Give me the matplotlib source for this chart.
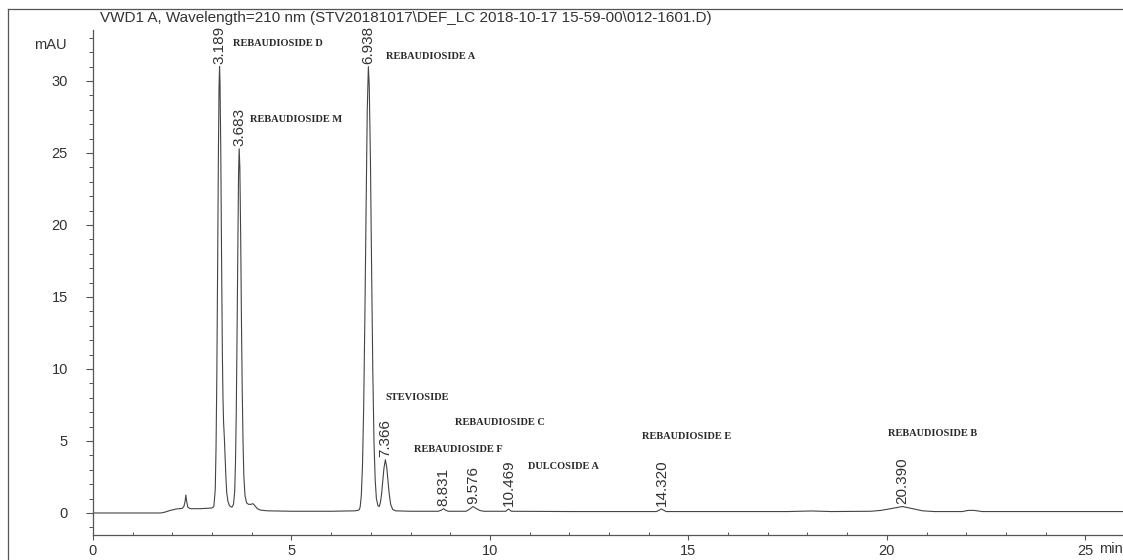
import matplotlib
matplotlib.use("Agg")
import matplotlib.pyplot as plt
from matplotlib.lines import Line2D
from matplotlib.ticker import MultipleLocator
import numpy as np

# Cromatograma VWD1 A (210 nm): puntos del trazo, tiempo en minutos y señal en mAU
tiempo_min = [
    0.0, 1.70, 1.80, 1.95, 2.10, 2.25, 2.29, 2.32, 2.34, 2.36, 2.39, 2.45, 2.70, 2.90, 3.00,
    3.045, 3.08, 3.10, 3.12, 3.14, 3.16, 3.175, 3.189, 3.20, 3.22, 3.24, 3.26, 3.275, 3.29,
    3.31, 3.33, 3.35, 3.37, 3.40, 3.44, 3.50, 3.54, 3.57, 3.59, 3.61, 3.63, 3.65, 3.667,
    3.683, 3.70, 3.72, 3.74, 3.76, 3.78, 3.80, 3.83, 3.87, 3.92, 3.98, 4.03, 4.08, 4.14,
    4.22, 4.40, 5.00, 6.00, 6.60, 6.70, 6.73, 6.76, 6.79, 6.82, 6.85, 6.88, 6.91, 6.938,
    6.96, 6.99, 7.02, 7.05, 7.08, 7.11, 7.14, 7.18, 7.21, 7.24, 7.27, 7.30, 7.33, 7.366,
    7.40, 7.43, 7.46, 7.50, 7.55, 7.62, 8.00, 8.70, 8.78, 8.831, 8.88, 8.95, 9.40, 9.48,
    9.576, 9.66, 9.75, 9.85, 10.40, 10.469, 10.54, 12.0, 14.20, 14.320, 14.44, 17.5, 18.1,
    18.6, 19.6, 19.85, 20.1, 20.390, 20.65, 20.9, 21.2, 21.9, 22.05, 22.2, 22.4, 26.0,
]
senal_mau = [
    0.0, 0.0, 0.05, 0.18, 0.28, 0.32, 0.45, 0.8, 1.25, 0.8, 0.4, 0.3, 0.3, 0.33, 0.35,
    0.45, 1.6, 4.5, 9.5, 17.0, 25.0, 29.5, 31.0, 30.0, 25.0, 17.5, 11.0, 8.0, 6.3,
    5.2, 3.8, 2.4, 1.4, 0.8, 0.5, 0.4, 0.6, 1.5, 3.5, 7.0, 12.5, 18.5, 23.5,
    25.3, 24.0, 19.5, 13.5, 8.5, 5.0, 2.6, 1.2, 0.7, 0.6, 0.6, 0.65, 0.5, 0.3,
    0.2, 0.15, 0.12, 0.12, 0.15, 0.2, 0.4, 1.2, 3.3, 7.4, 13.6, 21.0, 28.0, 31.0,
    29.7, 24.5, 16.8, 9.8, 4.9, 2.3, 1.0, 0.5, 0.45, 0.7, 1.3, 2.2, 3.1, 3.7,
    3.2, 2.3, 1.4, 0.6, 0.25, 0.15, 0.12, 0.12, 0.2, 0.3, 0.2, 0.12, 0.12, 0.25,
    0.45, 0.3, 0.17, 0.12, 0.12, 0.28, 0.12, 0.1, 0.1, 0.28, 0.1, 0.1, 0.14,
    0.1, 0.12, 0.18, 0.3, 0.45, 0.3, 0.15, 0.1, 0.1, 0.18, 0.18, 0.1, 0.1,
]

# Tiempos de retención integrados
picos_tr = [3.189, 3.683, 6.938, 7.366, 8.831, 9.576, 10.469, 14.320, 20.390]
etiquetas_tr = ["3.189", "3.683", "6.938", "7.366", "8.831", "9.576", "10.469", "14.320", "20.390"]

# Nombres de los compuestos y donde se escriben (min, mAU)
compuestos = [
    "REBAUDIOSIDE D", "REBAUDIOSIDE A", "REBAUDIOSIDE M", "STEVIOSIDE",
    "REBAUDIOSIDE C", "REBAUDIOSIDE F", "DULCOSIDE A", "REBAUDIOSIDE E", "REBAUDIOSIDE B",
]
compuestos_x = [3.53, 7.38, 3.95, 7.36, 9.12, 8.09, 10.96, 13.82, 20.02]
compuestos_y = [32.6, 31.7, 27.3, 8.05, 6.3, 4.4, 3.2, 5.3, 5.5]

titulo = "VWD1 A, Wavelength=210 nm (STV20181017\\DEF_LC 2018-10-17 15-59-00\\012-1601.D)"

gris_eje = "#555555"
gris_texto = "#333333"

fig = plt.figure(figsize=(11.23, 5.6), dpi=100)
ax = fig.add_axes([0.0828, 0.0446, 0.9172, 0.9018])

ax.plot(tiempo_min, senal_mau, color="#444444", linewidth=0.8)

ax.set_xlim(0, 25.95)
ax.set_ylim(-1.53, 33.54)

# Ejes al estilo ChemStation: solo izquierda y abajo
for lado in ["top", "right"]:
    ax.spines[lado].set_visible(False)
for lado in ["left", "bottom"]:
    ax.spines[lado].set_color(gris_eje)
    ax.spines[lado].set_linewidth(0.9)

ax.xaxis.set_major_locator(MultipleLocator(5))
ax.xaxis.set_minor_locator(MultipleLocator(1))
ax.yaxis.set_major_locator(MultipleLocator(5))
ax.yaxis.set_minor_locator(MultipleLocator(1))
ax.set_yticks(range(0, 31, 5))

fuente_ejes = "Liberation Sans"
ax.tick_params(axis="x", which="major", direction="out", length=3.5, width=0.8,
               color=gris_eje, pad=3, labelsize=10.5, labelcolor=gris_texto)
ax.tick_params(axis="x", which="minor", direction="in", length=2.5, width=0.7, color=gris_eje)
ax.tick_params(axis="y", which="major", direction="out", length=5, width=0.8,
               color=gris_eje, pad=13, labelsize=10.5, labelcolor=gris_texto)
ax.tick_params(axis="y", which="minor", direction="out", length=3, width=0.7, color=gris_eje)
for etiqueta in ax.get_xticklabels() + ax.get_yticklabels():
    etiqueta.set_family(fuente_ejes)

# Etiquetas verticales de tiempo de retención sobre cada pico
for tr, texto in zip(picos_tr, etiquetas_tr):
    altura = np.interp(tr, tiempo_min, senal_mau)
    ax.annotate(texto, xy=(tr, altura), xytext=(0, 2), textcoords="offset points",
                rotation=90, ha="center", va="bottom", fontsize=11,
                family=fuente_ejes, color=gris_texto)

# Nombres de los compuestos
for nombre, x, y in zip(compuestos, compuestos_x, compuestos_y):
    ax.text(x, y, nombre, ha="left", va="center", fontsize=7.5, fontweight="bold",
            family="Liberation Serif", color="#2a2a2a")

# Textos y marco de la cabecera
fig.text(0.089, 0.967, titulo, ha="left", va="center", fontsize=11,
         family=fuente_ejes, color=gris_texto)
fig.text(0.0597, 0.92, "mAU", ha="right", va="center", fontsize=10.5,
         family=fuente_ejes, color=gris_texto)
fig.text(0.9786, 0.0195, "min", ha="left", va="center", fontsize=10.5,
         family=fuente_ejes, color=gris_texto)

fig.add_artist(Line2D([0.0071, 0.0071], [0.0, 0.984], transform=fig.transFigure,
                      color=gris_eje, linewidth=0.9))
fig.add_artist(Line2D([0.0071, 1.0], [0.984, 0.984], transform=fig.transFigure,
                      color=gris_eje, linewidth=0.9))

fig.savefig("out.png", dpi=100)
